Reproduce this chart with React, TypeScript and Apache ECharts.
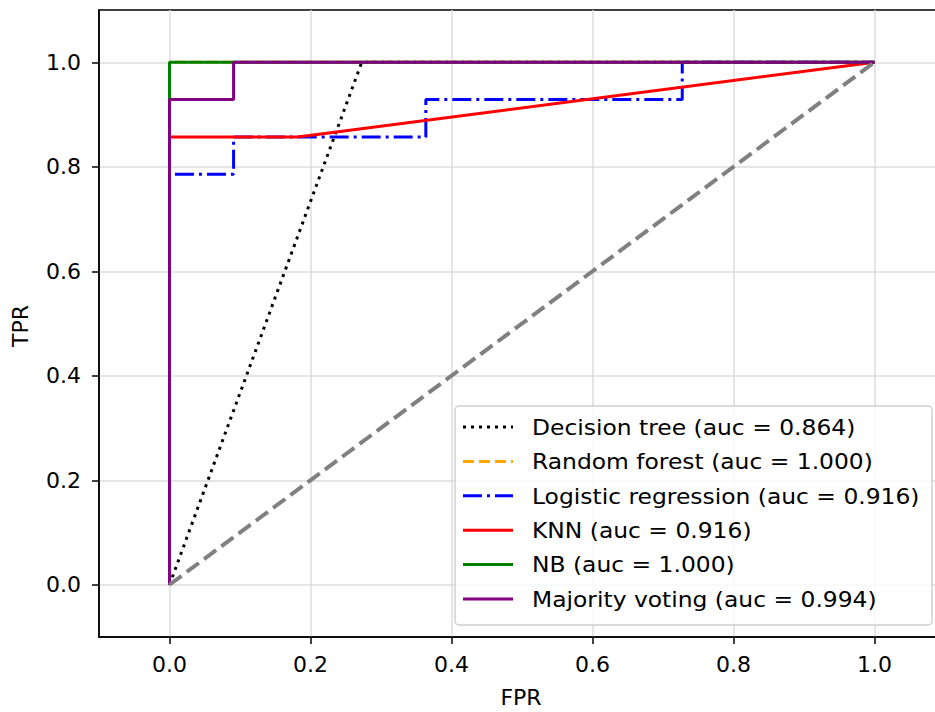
import React, { useEffect, useRef } from "react";
import * as echarts from "echarts";

const tickValues = [0, 0.2, 0.4, 0.6, 0.8, 1.0];
const seriesNames = [
  "Decision tree (auc = 0.864)",
  "Random forest (auc = 1.000)",
  "Logistic regression (auc = 0.916)",
  "KNN (auc = 0.916)",
  "NB (auc = 1.000)",
  "Majority voting (auc = 0.994)",
];
const seriesColors = ["#000000", "#FFA500", "#0000FF", "#FF0000", "#008000", "#800080"];
const dashes: (number[] | "solid")[] = [[3, 5], [11, 5], [19, 5, 3, 5], "solid", "solid", "solid"];

const dtFpr = [0, 0.2727, 1];
const dtTpr = [0, 1, 1];
const rfFpr = [0, 0, 1];
const rfTpr = [0, 1, 1];
const lrFpr = [0, 0, 0.0909, 0.0909, 0.3636, 0.3636, 0.7273, 0.7273, 1];
const lrTpr = [0, 0.7857, 0.7857, 0.8571, 0.8571, 0.9286, 0.9286, 1, 1];
const knnFpr = [0, 0, 0.1818, 1];
const knnTpr = [0, 0.8571, 0.8571, 1];
const nbFpr = [0, 0, 1];
const nbTpr = [0, 1, 1];
const mvFpr = [0, 0, 0.0909, 0.0909, 1];
const mvTpr = [0, 0.9286, 0.9286, 1, 1];
const diagX = [0, 1];
const diagY = [0, 1];

const curves = [
  [dtFpr, dtTpr],
  [rfFpr, rfTpr],
  [lrFpr, lrTpr],
  [knnFpr, knnTpr],
  [nbFpr, nbTpr],
  [mvFpr, mvTpr],
];

const zip = (a: number[], b: number[]) => a.map((v, i) => [v, b[i]]);

const FONT = "DejaVu Sans";

export default function App() {
  const ref = useRef<HTMLDivElement>(null);
  useEffect(() => {
    if (!ref.current) return;
    const chart = echarts.init(ref.current, undefined, { renderer: "svg" });

    const series: any[] = curves.map((c, i) => ({
      type: "line",
      name: seriesNames[i],
      data: zip(c[0], c[1]),
      symbol: "none",
      lineStyle: { color: seriesColors[i], width: 3, type: dashes[i] },
      z: 3 + i,
    }));
    series.push({
      type: "line",
      name: "diag",
      data: zip(diagX, diagY),
      symbol: "none",
      lineStyle: { color: "#808080", width: 4, type: [15, 6.5] },
      z: 10,
    });

    const legLeft = 455;
    const legTop = 406;
    const rowY0 = 427;
    const rowStep = 34.4;
    const legendEls: any[] = [
      {
        type: "rect",
        shape: { x: legLeft, y: legTop, width: 477, height: 219, r: 4 },
        style: { fill: "rgba(255,255,255,0.8)", stroke: "#d0d0d0", lineWidth: 1.5 },
        z: 100,
      },
    ];
    seriesNames.forEach((n, i) => {
      const y = rowY0 + i * rowStep;
      legendEls.push({
        type: "line",
        shape: { x1: 463, y1: y, x2: 513, y2: y },
        style: {
          stroke: seriesColors[i],
          lineWidth: 3,
          lineDash: dashes[i] === "solid" ? null : dashes[i],
        },
        z: 101,
      });
      legendEls.push({
        type: "text",
        x: 532,
        y: y,
        scaleX: 1.064,
        style: {
          text: n,
          fill: "#000",
          font: `22px '${FONT}'`,
          align: "left",
          verticalAlign: "middle",
        },
        z: 101,
      });
    });

    const axisCommon = {
      type: "value",
      min: -0.1,
      max: 1.1,
      axisLine: { show: true, onZero: false, lineStyle: { color: "#000", width: 1.5 } },
      axisTick: {
        show: true,
        length: 7,
        inside: false,
        customValues: tickValues,
        lineStyle: { color: "#000", width: 1.5 },
      },
      splitLine: { show: true, lineStyle: { color: "#dcdcdc", width: 1.5 } },
    };

    chart.setOption({
      animation: false,
      grid: {
        left: 99,
        top: 10,
        width: 846,
        height: 627,
        show: true,
        borderColor: "#000",
        borderWidth: 1.5,
        backgroundColor: "transparent",
      },
      xAxis: {
        ...axisCommon,
        axisLabel: {
          customValues: tickValues,
          formatter: (v: number) => v.toFixed(1),
          fontFamily: FONT,
          fontSize: 22,
          color: "#000",
          margin: 16,
        },
      },
      yAxis: {
        ...axisCommon,
        axisLabel: {
          customValues: tickValues,
          formatter: (v: number) => v.toFixed(1),
          fontFamily: FONT,
          fontSize: 22,
          color: "#000",
          margin: 18,
        },
      },
      series,
      graphic: [
        {
          type: "text",
          x: 521,
          y: 697,
          style: {
            text: "FPR",
            fill: "#000",
            font: `22px '${FONT}'`,
            align: "center",
            verticalAlign: "middle",
          },
        },
        {
          type: "text",
          x: 20,
          y: 326,
          rotation: Math.PI / 2,
          style: {
            text: "TPR",
            fill: "#000",
            font: `22px '${FONT}'`,
            align: "center",
            verticalAlign: "middle",
          },
        },
        ...legendEls,
      ],
    });
    return () => chart.dispose();
  }, []);
  return (
    <div
      style={{
        position: "absolute",
        left: 0,
        top: 0,
        width: 935,
        height: 712,
        overflow: "hidden",
        background: "#fff",
      }}
    >
      <div ref={ref} style={{ width: 980, height: 712 }} />
    </div>
  );
}
